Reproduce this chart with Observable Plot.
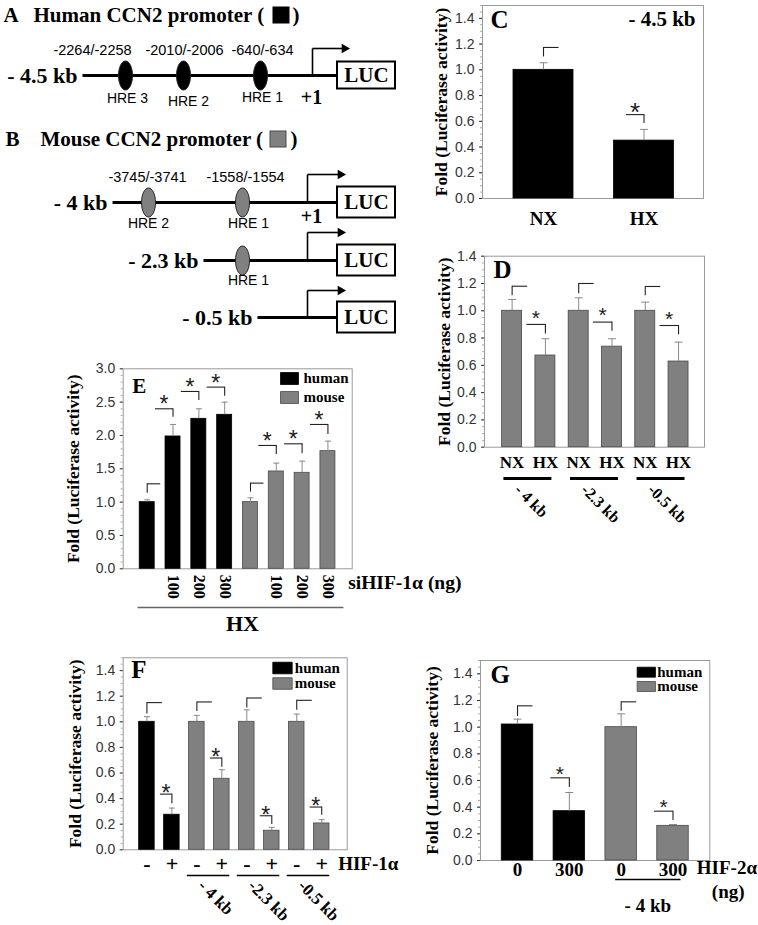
<!DOCTYPE html>
<html><head><meta charset="utf-8">
<script src="https://cdn.jsdelivr.net/npm/d3@7"></script>
<script src="https://cdn.jsdelivr.net/npm/@observablehq/plot@0.6"></script>
<style>
body{margin:0;background:#fff;}
#fig{position:relative;width:758px;height:925px;overflow:hidden;background:#fff;}
#fig svg{position:absolute;}
</style></head><body><div id="fig"></div>
<script>
// ================= DATA =================
// Panel A / B : promoter schematics
const schLetters = ["A", "B"];
const schTitles = ["Human CCN2 promoter (", "Mouse CCN2 promoter ("];
const schTitleSpecies = ["human", "mouse"];
const constructNames = ["- 4.5 kb", "- 4 kb", "- 2.3 kb", "- 0.5 kb"];
const constructSpecies = ["human", "mouse", "mouse", "mouse"];
const constructPlus1 = ["+1", "+1", "", ""];
const hreConstruct = [0, 0, 0, 1, 1, 2];
const hreNames = ["HRE 3", "HRE 2", "HRE 1", "HRE 2", "HRE 1", "HRE 1"];
const hreCoords = ["-2264/-2258", "-2010/-2006", "-640/-634", "-3745/-3741", "-1558/-1554", ""];

// Panel C : -4.5 kb human promoter, NX vs HX
const cLabels = ["NX", "HX"];
const cValues = [1.0, 0.45];
const cErrTop = [1.055, 0.537];
const cBracketLo = [1.10, 0.582];
const cBracketHi = [1.174, 0.652];
const cBracketType = ["ctrl", "sig"];
const cSpecies = ["human", "human"];

// Panel D : mouse promoter deletions, NX vs HX
const dLabels = ["NX", "HX", "NX", "HX", "NX", "HX"];
const dValues = [1.0, 0.672, 1.0, 0.737, 1.0, 0.628];
const dErrTop = [1.083, 0.795, 1.095, 0.795, 1.063, 0.77];
const dBracketLo = [1.11, 0.83, 1.125, 0.85, 1.11, 0.824];
const dBracketHi = [1.18, 0.90, 1.20, 0.917, 1.178, 0.892];
const dBracketType = ["ctrl", "sig", "ctrl", "sig", "ctrl", "sig"];
const dSpecies = ["mouse", "mouse", "mouse", "mouse", "mouse", "mouse"];
const dGroups = ["- 4 kb", "-2.3 kb", "-0.5 kb"];
const dGroupOf = [0, 0, 1, 1, 2, 2];

// Panel E : siHIF-1alpha under HX
const eLabels = ["", "100", "200", "300", "", "100", "200", "300"];
const eValues = [1.0, 1.985, 2.25, 2.31, 1.0, 1.46, 1.44, 1.765];
const eErrTop = [1.035, 2.165, 2.40, 2.50, 1.065, 1.585, 1.615, 1.915];
const eBracketLo = [1.135, 2.275, 2.525, 2.59, 1.15, 1.715, 1.725, 2.015];
const eBracketHi = [1.275, 2.40, 2.66, 2.725, 1.285, 1.85, 1.875, 2.165];
const eBracketType = ["ctrl", "sig", "sig", "sig", "ctrl", "sig", "sig", "sig"];
const eSpecies = ["human", "human", "human", "human", "mouse", "mouse", "mouse", "mouse"];
const eGroups = ["HX"];
const eGroupOf = [0, 0, 0, 0, 0, 0, 0, 0];

// Panel F : HIF-1alpha overexpression
const fLabels = ["-", "+", "-", "+", "-", "+", "-", "+"];
const fValues = [1.0, 0.274, 1.0, 0.555, 1.0, 0.149, 1.0, 0.206];
const fErrTop = [1.04, 0.326, 1.05, 0.626, 1.093, 0.175, 1.06, 0.235];
const fBracketLo = [1.06, 0.36, 1.08, 0.644, 1.108, 0.198, 1.09, 0.269];
const fBracketHi = [1.15, 0.435, 1.155, 0.717, 1.186, 0.266, 1.168, 0.334];
const fBracketType = ["ctrl", "sig", "ctrl", "sig", "ctrl", "sig", "ctrl", "sig"];
const fSpecies = ["human", "human", "mouse", "mouse", "mouse", "mouse", "mouse", "mouse"];
const fGroups = ["- 4 kb", "-2.3 kb", "-0.5 kb"];
const fGroupOf = [null, null, 0, 0, 1, 1, 2, 2];

// Panel G : HIF-2alpha overexpression
const gLabels = ["0", "300", "0", "300"];
const gValues = [1.02, 0.37, 1.0, 0.26];
const gErrTop = [1.06, 0.51, 1.10, 0.27];
const gBracketLo = [1.08, 0.548, 1.12, 0.30];
const gBracketHi = [1.16, 0.62, 1.19, 0.37];
const gBracketType = ["ctrl", "sig", "ctrl", "sig"];
const gSpecies = ["human", "human", "mouse", "mouse"];
const gGroups = ["- 4 kb"];
const gGroupOf = [null, null, 0, 0];

const legendNames = ["human", "mouse"];
const yTitle = "Fold (Luciferase activity)";

// ================= STYLE / LAYOUT =================
const SERIF = "'Liberation Serif','Times New Roman',serif";
const SANS = "'Liberation Sans',Arial,sans-serif";
const COLORS = {human: "#000000", mouse: "#808080"};
const STROKES = {human: "#000000", mouse: "#4a4a4a"};
const SB = {fontFamily: SERIF, fontWeight: "bold"};

function rectSymbol(w, h) { return {draw(ctx) { ctx.rect(-w / 2, -h / 2, w, h); }}; }
function ellipseSymbol(rx, ry) {
  const k = 0.5523;
  return {draw(ctx) {
    ctx.moveTo(rx, 0);
    ctx.bezierCurveTo(rx, ry * k, rx * k, ry, 0, ry);
    ctx.bezierCurveTo(-rx * k, ry, -rx, ry * k, -rx, 0);
    ctx.bezierCurveTo(-rx, -ry * k, -rx * k, -ry, 0, -ry);
    ctx.bezierCurveTo(rx * k, -ry, rx, -ry * k, rx, 0);
    ctx.closePath();
  }};
}

const fig = document.getElementById("fig");
function place(svg, left, top) {
  svg.style.left = left + "px";
  svg.style.top = top + "px";
  fig.appendChild(svg);
}

// ---------- Schematic (A, B) ----------
const SL = {
  titleY: [15, 139], letterX: [3, 5], titleX: [33, 40], swatchX: [273, 270], closeX: [292, 290],
  rowY: [75, 202, 260, 317], rowStart: [82, 112, 203, 257], rowEnd: 336,
  tssX: [312, 307, 307, 307], tssTop: [48, 174, 232, 290], arrowEnd: [347, 343, 343, 343],
  boxX1: 337, boxX2: 395, boxH: [27, 31, 31, 31], plus1Dy: [22.5, 14, 0, 0],
  hreX: [125, 183, 260, 148, 242, 242], hreCoordX: [92, 184, 262, 147, 245, 245],
  hreNameX: [127, 188, 262, 148, 248, 248], hreNameDy: [23, 26, 22, 21, 21, 20]
};
const titleRows = schTitles.map((t, i) => ({t, letter: schLetters[i], sp: schTitleSpecies[i], i}));
const cons = constructNames.map((name, i) => ({name, sp: constructSpecies[i], plus1: constructPlus1[i], i}));
const hres = hreNames.map((name, i) => ({name, coord: hreCoords[i], c: hreConstruct[i], sp: constructSpecies[hreConstruct[i]], i}));

const schematic = Plot.plot({
  width: 410, height: 345, margin: 0,
  x: {domain: [0, 410], range: [0, 410], axis: null},
  y: {domain: [0, 345], range: [0, 345], axis: null},
  style: {background: "transparent", overflow: "visible"},
  marks: [
    Plot.text(titleRows, {x: d => SL.letterX[d.i], y: d => SL.titleY[d.i], text: "letter", textAnchor: "start", fontSize: 21, ...SB}),
    Plot.text(titleRows, {x: d => SL.titleX[d.i], y: d => SL.titleY[d.i], text: "t", textAnchor: "start", fontSize: 21, ...SB}),
    Plot.rect(titleRows, {x1: d => SL.swatchX[d.i], x2: d => SL.swatchX[d.i] + 16, y1: d => SL.titleY[d.i] - 8, y2: d => SL.titleY[d.i] + 8, fill: d => COLORS[d.sp], stroke: d => STROKES[d.sp]}),
    Plot.text(titleRows, {x: d => SL.closeX[d.i], y: d => SL.titleY[d.i], text: d => ")", textAnchor: "start", fontSize: 21, ...SB}),
    Plot.text(cons, {x: d => SL.rowStart[d.i] - 5, y: d => SL.rowY[d.i], text: "name", textAnchor: "end", fontSize: 22, ...SB}),
    Plot.link(cons, {x1: d => SL.rowStart[d.i], x2: d => SL.rowEnd, y1: d => SL.rowY[d.i], y2: d => SL.rowY[d.i], stroke: "#000", strokeWidth: 3}),
    Plot.link(cons, {x1: d => SL.tssX[d.i], x2: d => SL.tssX[d.i], y1: d => SL.rowY[d.i], y2: d => SL.tssTop[d.i], stroke: "#000", strokeWidth: 1.6}),
    Plot.link(cons, {x1: d => SL.tssX[d.i], x2: d => SL.arrowEnd[d.i] - 5, y1: d => SL.tssTop[d.i], y2: d => SL.tssTop[d.i], stroke: "#000", strokeWidth: 1.6}),
    Plot.dot(cons, {x: d => SL.arrowEnd[d.i] - 3, y: d => SL.tssTop[d.i], symbol: "triangle", rotate: 90, r: 3.6, fill: "#000", stroke: "none"}),
    Plot.rect(cons, {x1: SL.boxX1, x2: SL.boxX2, y1: d => SL.rowY[d.i] - SL.boxH[d.i] / 2, y2: d => SL.rowY[d.i] + SL.boxH[d.i] / 2, fill: "#fff", stroke: "#000", strokeWidth: 2}),
    Plot.text(cons, {x: (SL.boxX1 + SL.boxX2) / 2, y: d => SL.rowY[d.i], text: d => "LUC", fontSize: 21, ...SB}),
    Plot.text(cons.filter(d => d.plus1), {x: 311, y: d => SL.rowY[d.i] + SL.plus1Dy[d.i], text: "plus1", fontSize: 20, ...SB}),
    Plot.dot(hres, {x: d => SL.hreX[d.i], y: d => SL.rowY[d.c], symbol: ellipseSymbol(7, 14.5), r: 5, fill: d => COLORS[d.sp], stroke: "#222", strokeWidth: 1}),
    Plot.text(hres.filter(d => d.coord), {x: d => SL.hreCoordX[d.i], y: d => SL.rowY[d.c] - 25, text: "coord", fontSize: 14.5, fontFamily: SANS}),
    Plot.text(hres, {x: d => SL.hreNameX[d.i], y: d => SL.rowY[d.c] + SL.hreNameDy[d.i], text: "name", fontSize: 14, fontFamily: SANS})
  ]
});
place(schematic, 0, 0);

// ---------- Bar panels ----------
function barPanel(data, cfg) {
  const [mt, mr, mb, ml] = cfg.margin;
  const step = (cfg.width - ml - mr) / (cfg.xDomain[1] - cfg.xDomain[0]);
  const u = px => px / step;
  const rows = data.values.map((v, i) => ({
    pos: i, value: v, err: data.errTop[i], lo: data.bracketLo[i], hi: data.bracketHi[i],
    type: data.bracketType[i], sp: data.species[i], label: data.labels[i],
    group: data.groupOf ? data.groupOf[i] : null
  }));
  const hw = u(cfg.barWidth / 2), cap = u(cfg.capHalf);
  const ctrl = rows.filter(d => d.type === "ctrl");
  const sig = rows.filter(d => d.type === "sig");
  const marks = [
    Plot.frame({stroke: "#9a9a9a", strokeWidth: 1}),
    Plot.axisY({ticks: d3.range(0, cfg.yMax + 1e-9, cfg.minor), tickSize: 2, tickFormat: () => "", color: "#aaa", label: null}),
    Plot.axisY({ticks: d3.range(0, cfg.tickMax + 1e-9, cfg.tickStep), tickSize: 3, tickPadding: 5, tickFormat: d3.format(".1f"), fontSize: 14, fontFamily: SANS, color: "#333", label: null}),
    Plot.text([yTitle], {frameAnchor: "left", rotate: -90, dx: cfg.titleDx, text: d => d, textAnchor: "middle", lineAnchor: "middle", fontSize: 17.5, ...SB}),
    Plot.rect(rows, {x1: d => d.pos - hw, x2: d => d.pos + hw, y1: d => 0, y2: "value", fill: d => COLORS[d.sp], stroke: d => STROKES[d.sp], strokeWidth: 0.8}),
    Plot.ruleX(rows, {x: "pos", y1: "value", y2: "err", stroke: "#8a8a8a", strokeWidth: 1}),
    Plot.link(rows, {x1: d => d.pos - cap, x2: d => d.pos + cap, y1: "err", y2: "err", stroke: "#8a8a8a", strokeWidth: 1}),
    Plot.ruleX(rows, {x: "pos", y1: "lo", y2: "hi", stroke: "#222", strokeWidth: 1.1}),
    Plot.link(ctrl, {x1: "pos", x2: d => d.pos + u(cfg.ctrlLen), y1: "hi", y2: "hi", stroke: "#222", strokeWidth: 1.1}),
    Plot.link(sig, {x1: d => d.pos - u(cfg.sigLen), x2: "pos", y1: "hi", y2: "hi", stroke: "#222", strokeWidth: 1.1}),
    Plot.text(sig, {x: d => d.pos - u(cfg.sigLen / 2), y: "hi", text: d => "*", dy: cfg.starDy, fontSize: cfg.starSize, fontFamily: SANS, fill: "#222"}),
    Plot.text(rows.filter(d => d.label), {x: "pos", y: d => 0, text: "label", dy: cfg.labelDy, rotate: cfg.labelRotate || 0,
      textAnchor: cfg.labelRotate ? "start" : "middle", lineAnchor: "middle", fontSize: cfg.labelSize, ...SB})
  ];
  if (data.groups) {
    const g = cfg.group;
    const gs = data.groups.map((name, gi) => {
      const members = rows.filter(d => d.group === gi).map(d => d.pos);
      const x1 = d3.min(members) - u(g.extL), x2 = d3.max(members) + u(g.extR);
      return {name, x1, x2, xc: (x1 + x2) / 2};
    });
    marks.push(Plot.link(gs, {x1: "x1", x2: "x2", y1: d => 0, y2: d => 0, dy: g.lineDy, stroke: g.color, strokeWidth: g.width}));
    marks.push(Plot.text(gs, {x: "xc", y: d => 0, text: "name", dx: g.labelDx, dy: g.labelDy, rotate: g.rotate,
      textAnchor: g.rotate ? "start" : "middle", lineAnchor: "middle", fontSize: g.size, ...SB}));
  }
  if (cfg.legend) {
    const lg = cfg.legend;
    legendNames.forEach((sp, k) => {
      marks.push(Plot.dot([sp], {frameAnchor: "top-right", dx: lg.rectDx, dy: lg.dy[k], symbol: rectSymbol(lg.w, lg.h), r: 5, fill: COLORS[sp], stroke: STROKES[sp], strokeWidth: 0.8}));
      marks.push(Plot.text([sp], {frameAnchor: "top-right", dx: lg.textDx, dy: lg.dy[k], text: d => d, textAnchor: "start", lineAnchor: "middle", fontSize: 15, ...SB}));
    });
  }
  (cfg.extras || []).forEach(e => {
    marks.push(Plot.text([e.text], {frameAnchor: e.anchor, dx: e.dx, dy: e.dy, text: d => d,
      textAnchor: e.textAnchor || "middle", lineAnchor: e.lineAnchor || "middle", fontSize: e.size, ...SB}));
  });
  const svg = Plot.plot({
    width: cfg.width, height: cfg.height,
    marginTop: mt, marginRight: mr, marginBottom: mb, marginLeft: ml,
    x: {domain: cfg.xDomain, axis: null},
    y: {domain: [0, cfg.yMax]},
    style: {background: "transparent", overflow: "visible", fontFamily: SANS},
    marks
  });
  place(svg, cfg.left, cfg.top);
}

// Panel C
barPanel({labels: cLabels, values: cValues, errTop: cErrTop, bracketLo: cBracketLo, bracketHi: cBracketHi, bracketType: cBracketType, species: cSpecies}, {
  left: 410, top: 0, width: 348, height: 235, margin: [5, 55, 37, 72], xDomain: [-0.607, 1.592],
  yMax: 1.5, tickMax: 1.4, tickStep: 0.2, minor: 0.05, barWidth: 60, capHalf: 4, ctrlLen: 15, sigLen: 18,
  starDy: -1.5, starSize: 26, labelDy: 20, labelSize: 19, titleDx: -41.5,
  extras: [
    {text: "C", anchor: "top-left", dx: 8, dy: 5, size: 25, textAnchor: "start", lineAnchor: "top"},
    {text: "- 4.5 kb", anchor: "top-right", dx: -8, dy: 6, size: 21, textAnchor: "end", lineAnchor: "top"}
  ]
});

// Panel D
barPanel({labels: dLabels, values: dValues, errTop: dErrTop, bracketLo: dBracketLo, bracketHi: dBracketHi, bracketType: dBracketType, species: dSpecies, groups: dGroups, groupOf: dGroupOf}, {
  left: 400, top: 235, width: 358, height: 300, margin: [20.7, 54, 88.3, 84], xDomain: [-0.83, 5.78],
  yMax: 1.4, tickMax: 1.4, tickStep: 0.2, minor: 0.05, barWidth: 20, capHalf: 4, ctrlLen: 15, sigLen: 19,
  starDy: -6.5, starSize: 21, labelDy: 15.5, labelSize: 17, titleDx: -40.5,
  group: {lineDy: 31.3, extL: 8.7, extR: 6, width: 3, color: "#000", labelDx: -10, labelDy: 40, rotate: 45, size: 16},
  extras: [{text: "D", anchor: "top-left", dx: 9, dy: 4, size: 25, textAnchor: "start", lineAnchor: "top"}]
});

// Panel E
barPanel({labels: eLabels, values: eValues, errTop: eErrTop, bracketLo: eBracketLo, bracketHi: eBracketHi, bracketType: eBracketType, species: eSpecies, groups: eGroups, groupOf: eGroupOf}, {
  left: 60, top: 360, width: 400, height: 280, margin: [8.3, 108.3, 71.7, 62.7], xDomain: [-0.93, 7.94],
  yMax: 3, tickMax: 3, tickStep: 0.5, minor: 0.1, barWidth: 15, capHalf: 3, ctrlLen: 13, sigLen: 18,
  starDy: -4, starSize: 23, labelDy: 6, labelRotate: 90, labelSize: 16, titleDx: -49.7,
  group: {lineDy: 38.7, extL: 9.7, extR: 15.5, width: 1.5, color: "#666", labelDx: 2, labelDy: 55, rotate: 0, size: 22},
  legend: {rectDx: -62.7, textDx: -48.7, dy: [9.7, 28.7], w: 18, h: 12},
  extras: [
    {text: "E", anchor: "top-left", dx: 9, dy: 9, size: 21, textAnchor: "start", lineAnchor: "top"},
    {text: "siHIF-1α (ng)", anchor: "bottom-right", dx: -4, dy: 14, size: 19.5, textAnchor: "start"}
  ]
});

// Panel F
barPanel({labels: fLabels, values: fValues, errTop: fErrTop, bracketLo: fBracketLo, bracketHi: fBracketHi, bracketType: fBracketType, species: fSpecies, groups: fGroups, groupOf: fGroupOf}, {
  left: 60, top: 640, width: 400, height: 285, margin: [17.3, 113.3, 75.7, 62.7], xDomain: [-0.95, 8.02],
  yMax: 1.5, tickMax: 1.4, tickStep: 0.2, minor: 0.05, barWidth: 15.5, capHalf: 3, ctrlLen: 15, sigLen: 12,
  starDy: -0.5, starSize: 23, labelDy: 14, labelSize: 22, titleDx: -48,
  group: {lineDy: 25.7, extL: 10, extR: 7.5, width: 1.5, color: "#000", labelDx: -7, labelDy: 33, rotate: 45, size: 17},
  legend: {rectDx: -64.7, textDx: -52.4, dy: [10.2, 25.7], w: 19.4, h: 11.6},
  extras: [
    {text: "F", anchor: "top-left", dx: 8, dy: 2, size: 25, textAnchor: "start", lineAnchor: "top"},
    {text: "HIF-1α", anchor: "bottom-right", dx: -9, dy: 14, size: 19, textAnchor: "start"}
  ]
});

// Panel G
barPanel({labels: gLabels, values: gValues, errTop: gErrTop, bracketLo: gBracketLo, bracketHi: gBracketHi, bracketType: gBracketType, species: gSpecies, groups: gGroups, groupOf: gGroupOf}, {
  left: 410, top: 640, width: 348, height: 285, margin: [20, 48.7, 65, 70], xDomain: [-0.714, 3.71],
  yMax: 1.5, tickMax: 1.4, tickStep: 0.2, minor: 0.05, barWidth: 31.5, capHalf: 4, ctrlLen: 15, sigLen: 19,
  starDy: -4, starSize: 21, labelDy: 9, labelSize: 19, titleDx: -48,
  group: {lineDy: 19, extL: 6, extR: 7.5, width: 1.5, color: "#000", labelDx: 0, labelDy: 45, rotate: 0, size: 19},
  legend: {rectDx: -63.5, textDx: -52.6, dy: [11.7, 26], w: 18.3, h: 10},
  extras: [
    {text: "G", anchor: "top-left", dx: 10, dy: 5, size: 25, textAnchor: "start", lineAnchor: "top"},
    {text: "HIF-2α", anchor: "bottom-right", dx: -13, dy: 7, size: 19, textAnchor: "start"},
    {text: "(ng)", anchor: "bottom-right", dx: 2, dy: 31, size: 19, textAnchor: "start"}
  ]
});
</script></body></html>
